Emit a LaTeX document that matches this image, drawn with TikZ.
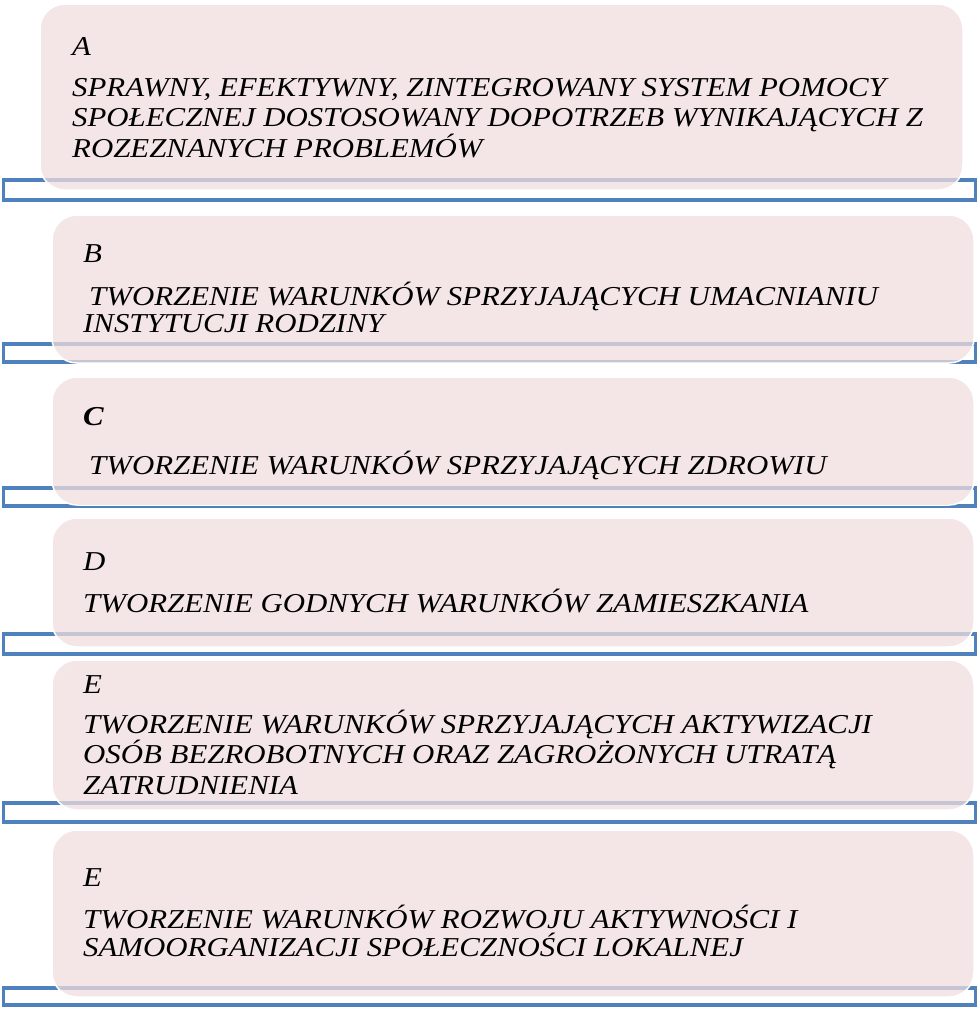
\documentclass[tikz,border=0pt]{standalone}
\usepackage{fontspec}
\setmainfont{Liberation Serif}[FakeStretch=1.13]
\definecolor{blueline}{RGB}{79,129,189}
\definecolor{pinkfill}{RGB}{240,221,221}
\begin{document}
\begin{tikzpicture}[x=1pt,y=-1pt,
  bracket/.style={draw=blueline, line width=3.8pt},
  card/.style={fill=pinkfill, fill opacity=0.74, draw=white, line width=1.5pt, rounded corners=25pt},
  txt/.style={anchor=base west, inner sep=0pt, font=\fontsize{27.3}{30}\selectfont\itshape}]
\useasboundingbox (0,0) rectangle (978,1009);
% A
\draw[bracket] (3.5,180) rectangle (975.5,200);
\draw[card] (40,4) rectangle (963,190);
\node[txt] (la) at (72,55) {A};
\node[txt] (a1) at (72,96) {SPRAWNY, EFEKTYWNY, ZINTEGROWANY SYSTEM POMOCY};
\node[txt] (a2) at (72,126.5) {SPOŁECZNEJ DOSTOSOWANY DOPOTRZEB WYNIKAJĄCYCH Z};
\node[txt] (a3) at (72,157) {ROZEZNANYCH PROBLEMÓW};
% B
\draw[bracket] (3.5,344) rectangle (975.5,362);
\draw[card] (52,215) rectangle (974,363);
\node[txt] (lb) at (83,262) {B};
\node[txt] (b1) at (89,305) {TWORZENIE WARUNKÓW SPRZYJAJĄCYCH UMACNIANIU};
\node[txt] (b2) at (83,332) {INSTYTUCJI RODZINY};
% C
\draw[bracket] (3.5,488) rectangle (975.5,506);
\draw[card] (52,377) rectangle (974,505);
\node[txt, font=\fontsize{27.3}{30}\selectfont\itshape\bfseries] (lc) at (83,425) {C};
\node[txt] (c1) at (89,474) {TWORZENIE WARUNKÓW SPRZYJAJĄCYCH ZDROWIU};
% D
\draw[bracket] (3.5,634) rectangle (975.5,654);
\draw[card] (52,518) rectangle (974,647);
\node[txt] (ld) at (83,570) {D};
\node[txt] (d1) at (83,612) {TWORZENIE GODNYCH WARUNKÓW ZAMIESZKANIA};
% E
\draw[bracket] (3.5,803) rectangle (975.5,822);
\draw[card] (52,660) rectangle (974,810);
\node[txt] (le) at (83,693) {E};
\node[txt] (e1) at (83,733) {TWORZENIE WARUNKÓW SPRZYJAJĄCYCH AKTYWIZACJI};
\node[txt] (e2) at (83,763) {OSÓB BEZROBOTNYCH ORAZ ZAGROŻONYCH UTRATĄ};
\node[txt] (e3) at (83,794) {ZATRUDNIENIA};
% E (second)
\draw[bracket] (3.5,988) rectangle (975.5,1005);
\draw[card] (52,830) rectangle (974,997);
\node[txt] (lf) at (83,886) {E};
\node[txt] (f1) at (83,928) {TWORZENIE WARUNKÓW ROZWOJU AKTYWNOŚCI I};
\node[txt] (f2) at (83,956) {SAMOORGANIZACJI SPOŁECZNOŚCI LOKALNEJ};
\end{tikzpicture}
\end{document}
